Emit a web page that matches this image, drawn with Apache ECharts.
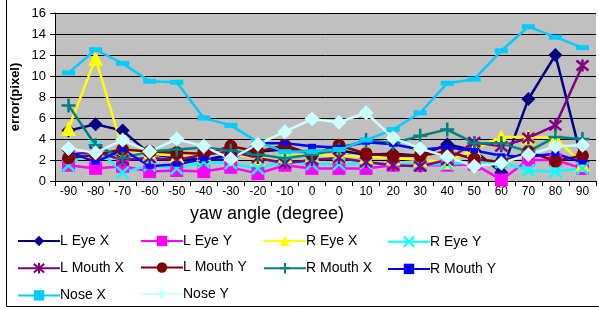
<!DOCTYPE html>
<html>
<head>
<meta charset="utf-8">
<script src="https://cdn.jsdelivr.net/npm/echarts@6/dist/echarts.min.js"></script>
<style>
html, body { margin: 0; padding: 0; background: #fff; }
#main { width: 599px; height: 309px; }
</style>
</head>
<body>
<div id="main"></div>
<script>
// 横轴角度（有两个 0）
var angles = ['-90', '-80', '-70', '-60', '-50', '-40', '-30', '-20', '-10', '0', '0', '10', '20', '30', '40', '50', '60', '70', '80', '90'];
var yTicks = [0, 2, 4, 6, 8, 10, 12, 14, 16];

var lEyeX   = [4.8, 5.4, 4.8, 2.6, 2.2, 2.0, 2.5, 2.8, 3.0, 2.7, 2.9, 2.5, 2.6, 2.4, 3.5, 2.9, 0.8, 7.8, 12.0, 1.8];
var lEyeY   = [1.5, 1.2, 1.4, 0.9, 1.0, 0.9, 1.3, 0.7, 1.5, 1.2, 1.2, 1.2, 1.5, 1.5, 1.5, 1.6, 0.1, 2.0, 2.0, 1.2];
var rEyeX   = [5.0, 11.7, 3.0, 2.6, 2.4, 2.6, 2.6, 2.2, 2.4, 2.5, 2.4, 2.3, 2.2, 2.0, 1.8, 3.0, 4.2, 4.2, 4.1, 1.6];
var rEyeY   = [1.5, 3.2, 0.8, 1.5, 1.2, 1.8, 1.7, 1.2, 1.9, 1.6, 1.6, 1.7, 1.6, 1.6, 1.6, 1.8, 1.8, 1.0, 0.9, 1.2];
var lMouthX = [2.5, 2.8, 2.0, 2.2, 2.0, 2.5, 2.8, 2.2, 1.7, 2.0, 2.2, 1.8, 1.5, 1.4, 2.0, 3.7, 3.3, 4.1, 5.3, 11.0];
var lMouthY = [2.2, 2.5, 3.0, 2.8, 2.7, 2.6, 3.3, 2.8, 3.4, 2.5, 3.4, 2.6, 2.4, 2.4, 2.8, 2.1, 1.8, 2.8, 1.9, 2.4];
var rMouthX = [7.2, 3.4, 2.2, 2.8, 3.0, 3.2, 2.9, 2.5, 2.2, 2.5, 3.0, 3.9, 3.6, 4.3, 4.9, 3.6, 3.6, 2.8, 4.2, 4.0];
var rMouthY = [2.8, 1.8, 3.0, 1.4, 1.6, 2.1, 2.0, 3.6, 3.6, 3.3, 3.2, 3.7, 3.5, 3.0, 3.2, 2.9, 2.4, 2.3, 2.6, 1.8];
var noseX   = [10.3, 12.5, 11.2, 9.5, 9.4, 6.0, 5.3, 3.7, 2.8, 2.8, 3.0, 3.9, 4.9, 6.5, 9.3, 9.7, 12.4, 14.7, 13.7, 12.7];
var noseY   = [3.1, 2.7, 3.9, 2.8, 4.0, 3.3, 2.1, 3.5, 4.7, 5.9, 5.6, 6.5, 4.1, 3.1, 2.3, 1.4, 1.7, 2.5, 3.3, 3.4];

var myChart = echarts.init(document.getElementById('main'));

var X_PATH = 'path://M0,0L10,10M10,0L0,10';
var STAR_PATH = 'path://M0,0L10,10M10,0L0,10M5,-1L5,11';
var PLUS_PATH = 'path://M5,0L5,10M0,5L10,5';

function mk(name, data, color, symbol, size, stroke) {
	return {
		name: name,
		type: 'line',
		data: data,
		symbol: symbol,
		symbolSize: size,
		lineStyle: { color: color, width: 2.5 },
		itemStyle: stroke ? { color: 'none', borderColor: color, borderWidth: 2.5 } : { color: color, borderWidth: 0 },
		emphasis: { disabled: true },
		animation: false
	}
}

var series = [
	mk('L Eye X', lEyeX, '#000080', 'diamond', 14),
	mk('L Eye Y', lEyeY, '#ff00ff', 'rect', 13),
	mk('R Eye X', rEyeX, '#ffff00', 'triangle', 15),
	mk('R Eye Y', rEyeY, '#00ffff', X_PATH, 12, true),
	mk('L Mouth X', lMouthX, '#800080', STAR_PATH, 12, true),
	mk('L Mouth Y', lMouthY, '#800000', 'circle', 13),
	mk('R Mouth X', rMouthX, '#008080', PLUS_PATH, 14, true),
	mk('R Mouth Y', rMouthY, '#0000ff', 'rect', [8, 5]),
	mk('Nose X', noseX, '#00ccff', 'rect', [13, 5]),
	mk('Nose Y', noseY, '#ccffff', 'diamond', 15)
];

// 图例按列摆放
function legendCol(left, names) {
	return {
		orient: 'vertical',
		left: left,
		top: 229,
		height: 100,
		itemWidth: 42,
		itemHeight: 13,
		itemGap: 12.5,
		data: names,
		textStyle: { fontFamily: 'Liberation Sans', fontSize: 14, color: '#000', padding: [0, 0, 0, -5] },
		selectedMode: false
	}
}

var option = {
	backgroundColor: '#fff',
	animation: false,
	grid: {
		left: 55,
		right: 3,
		top: 13,
		bottom: 128,
		show: true,
		backgroundColor: '#c0c0c0',
		borderWidth: 0
	},
	legend: [
		legendCol(12, ['L Eye X', 'L Mouth X', 'Nose X']),
		legendCol(135, ['L Eye Y', 'L Mouth Y', 'Nose Y']),
		legendCol(258, ['R Eye X', 'R Mouth X']),
		legendCol(382, ['R Eye Y', 'R Mouth Y'])
	],
	xAxis: {
		type: 'category',
		data: angles,
		boundaryGap: true,
		axisLine: { lineStyle: { color: '#000', width: 1 } },
		axisTick: { show: true, length: 5, lineStyle: { color: '#000' } },
		axisLabel: { color: '#000', fontFamily: 'Liberation Sans', fontSize: 12, margin: 5, interval: 0 },
		splitLine: { show: false }
	},
	yAxis: {
		type: 'value',
		min: yTicks[0],
		max: yTicks[yTicks.length - 1],
		interval: 2,
		name: 'error(pixel)',
		nameLocation: 'middle',
		nameGap: 33,
		nameMoveOverlap: false,
		nameRotate: 90,
		nameTextStyle: { color: '#000', fontFamily: 'Liberation Sans', fontSize: 13, fontWeight: 'bold' },
		axisLine: { show: true, lineStyle: { color: '#000', width: 1 } },
		axisTick: { show: true, length: 5, lineStyle: { color: '#000' } },
		axisLabel: { color: '#000', fontFamily: 'Liberation Sans', fontSize: 13, margin: 9 },
		splitLine: { show: true, lineStyle: { color: '#000', width: 1 } }
	},
	graphic: [
		{
			type: 'text',
			style: { text: 'yaw angle (degree)', x: 267, y: 214, fill: '#000', font: '18px "Liberation Sans"', align: 'center', verticalAlign: 'middle' }
		},
		{
			type: 'rect',
			shape: { x: 6.5, y: -2, width: 600, height: 308.5 },
			style: { fill: 'none', stroke: '#000', lineWidth: 1 },
			silent: true
		}
	],
	series: series
};

myChart.setOption(option);
</script>
</body>
</html>
